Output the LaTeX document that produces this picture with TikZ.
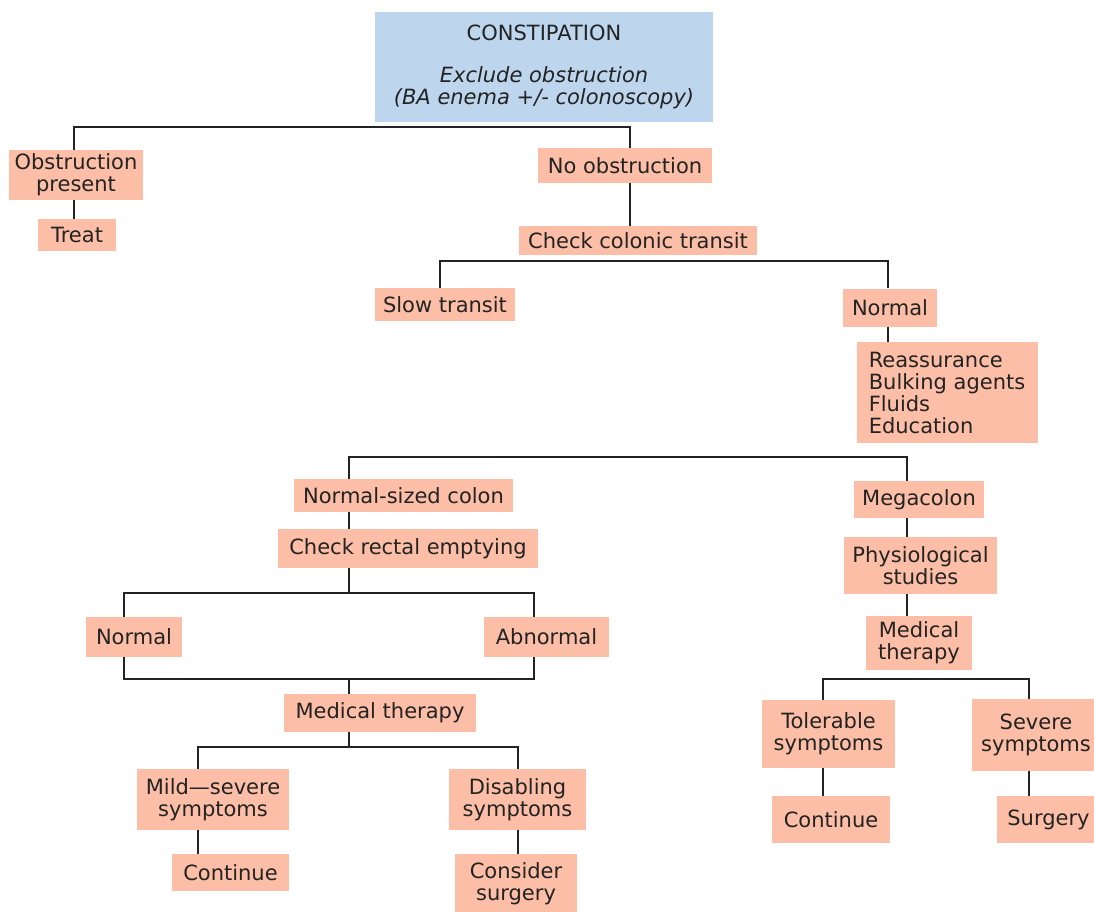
\documentclass[tikz,border=0pt]{standalone}
\usepackage{fontspec}
\setmainfont{DejaVu Sans}
\definecolor{peach}{RGB}{252,190,166}
\definecolor{paleblue}{RGB}{189,214,238}
\definecolor{ink}{RGB}{35,35,35}
\definecolor{wire}{RGB}{35,35,35}
\begin{document}
\begin{tikzpicture}[x=1pt,y=-1pt,
  box/.style={fill=peach, inner sep=0pt, align=center, text=ink,
    font=\fontsize{21}{22}\selectfont},
  topbox/.style={box, fill=paleblue},
  conn/.style={draw=wire, line width=2.8pt, line join=miter}]
\useasboundingbox (0,0) rectangle (1094,911);

% nodes
\node[topbox, minimum width=338pt, minimum height=110pt] (top) at (544,67)
  {CONSTIPATION\\[20pt]\textit{Exclude obstruction}\\\textit{(BA enema +/- colonoscopy)}};
\node[box, minimum width=134pt, minimum height=50pt] (obs) at (76,175) {Obstruction\\present};
\node[box, minimum width=78pt, minimum height=32pt] (treat) at (77,235) {Treat};
\node[box, minimum width=174pt, minimum height=35pt] (noobs) at (625,165.5) {No obstruction};
\node[box, minimum width=238pt, minimum height=29pt] (transit) at (638,240.5) {Check colonic transit};
\node[box, minimum width=140pt, minimum height=33pt] (slow) at (445,304.5) {Slow transit};
\node[box, minimum width=94pt, minimum height=38pt] (normA) at (890,307.5) {Normal};
\node[box, minimum width=181pt, minimum height=101pt, align=left] (reass) at (947,392.5)
  {Reassurance\\Bulking agents\\Fluids\\Education};
\node[box, minimum width=219pt, minimum height=33pt] (nsc) at (403.5,495.5) {Normal-sized colon};
\node[box, minimum width=130pt, minimum height=37pt] (mega) at (919,499.5) {Megacolon};
\node[box, minimum width=260pt, minimum height=39pt] (cre) at (408,548.5) {Check rectal emptying};
\node[box, minimum width=96pt, minimum height=40pt] (normB) at (134,637) {Normal};
\node[box, minimum width=125pt, minimum height=40pt] (abn) at (546.5,637) {Abnormal};
\node[box, minimum width=192pt, minimum height=38pt] (medA) at (380,713) {Medical therapy};
\node[box, minimum width=152pt, minimum height=61pt] (mild) at (213,799.5) {Mild—severe\\symptoms};
\node[box, minimum width=137pt, minimum height=61pt] (dis) at (517.5,799.5) {Disabling\\symptoms};
\node[box, minimum width=117pt, minimum height=37pt] (contA) at (230.5,872.5) {Continue};
\node[box, minimum width=122pt, minimum height=59pt] (surgA) at (516,883.5) {Consider\\surgery};
\node[box, minimum width=153pt, minimum height=57pt] (phys) at (920.5,565.5) {Physiological\\studies};
\node[box, minimum width=106pt, minimum height=54pt] (medB) at (919,643) {Medical\\therapy};
\node[box, minimum width=133pt, minimum height=68pt] (tol) at (828.5,734) {Tolerable\\symptoms};
\node[box, minimum width=128pt, minimum height=72pt] (sev) at (1036,735) {Severe\\symptoms};
\node[box, minimum width=118pt, minimum height=47pt] (contB) at (831,819.5) {Continue};
\node[box, minimum width=103pt, minimum height=47pt] (surgB) at (1048.5,819.5) {Surgery};

% bar coordinates
\coordinate (b1l) at (74,127);   \coordinate (b1r) at (630,127);
\coordinate (b2l) at (440,261);  \coordinate (b2r) at (888,261);
\coordinate (b3l) at (349,457);  \coordinate (b3r) at (907,457);
\coordinate (b4)  at (349,593);  \coordinate (b4l) at (124,593); \coordinate (b4r) at (534,593);
\coordinate (b5)  at (349,679);  \coordinate (b5l) at (124,679); \coordinate (b5r) at (534,679);
\coordinate (b6)  at (349,747);  \coordinate (b6l) at (198,747); \coordinate (b6r) at (518,747);
\coordinate (b7l) at (823,679);  \coordinate (b7r) at (1029,679);

% connectors
\draw[conn] (obs.north -| b1l) -- (b1l) -- (b1r) -- (noobs.north -| b1r);
\draw[conn] (obs.south -| b1l) -- (treat.north -| b1l);
\draw[conn] (noobs.south -| b1r) -- (transit.north -| b1r);
\draw[conn] (slow.north -| b2l) -- (b2l) -- (b2r) -- (normA.north -| b2r);
\draw[conn] (normA.south -| b2r) -- (reass.north -| b2r);
\draw[conn] (nsc.north -| b3l) -- (b3l) -- (b3r) -- (mega.north -| b3r);
\draw[conn] (nsc.south -| b3l) -- (cre.north -| b3l);
\draw[conn] (cre.south -| b4) -- (b4);
\draw[conn] (normB.north -| b4l) -- (b4l) -- (b4r) -- (abn.north -| b4r);
\draw[conn] (normB.south -| b5l) -- (b5l) -- (b5r) -- (abn.south -| b5r);
\draw[conn] (b5) -- (medA.north -| b5);
\draw[conn] (medA.south -| b6) -- (b6);
\draw[conn] (mild.north -| b6l) -- (b6l) -- (b6r) -- (dis.north -| b6r);
\draw[conn] (mild.south -| b6l) -- (contA.north -| b6l);
\draw[conn] (dis.south -| b6r) -- (surgA.north -| b6r);
\draw[conn] (mega.south -| b3r) -- (phys.north -| b3r);
\draw[conn] (phys.south -| b3r) -- (medB.north -| b3r);
\draw[conn] (tol.north -| b7l) -- (b7l) -- (b7r) -- (sev.north -| b7r);
\draw[conn] (tol.south -| b7l) -- (contB.north -| b7l);
\draw[conn] (sev.south -| b7r) -- (surgB.north -| b7r);
\end{tikzpicture}
\end{document}
